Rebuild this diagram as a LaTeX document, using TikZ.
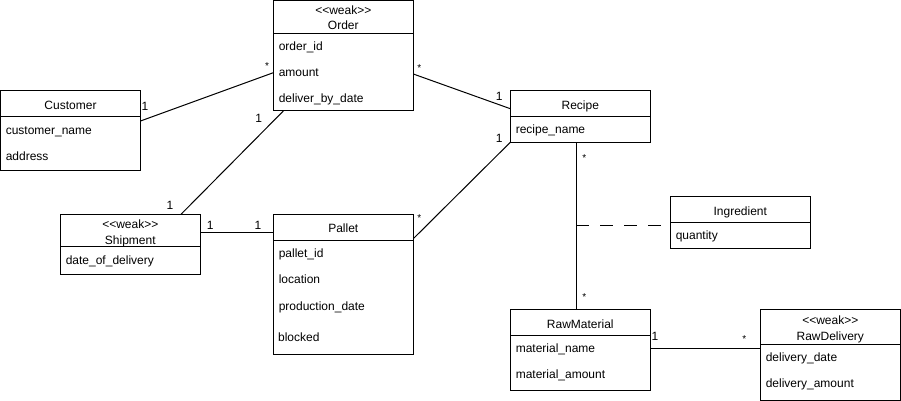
\documentclass[tikz,border=0pt]{standalone}
\usepackage{fontspec}
\newfontfamily\umlfont{Liberation Sans}
\usetikzlibrary{calc}
\begin{document}
\begin{tikzpicture}[x=1pt,y=-1pt,
  box/.style={draw, line width=1pt, rectangle, minimum width=140pt, inner sep=0pt, outer sep=0pt, anchor=north west},
  txt/.style={font=\umlfont\fontsize{12}{14}\selectfont, inner sep=0pt, outer sep=0pt},
  attr/.style={txt, anchor=base west},
  ttl/.style={txt, anchor=base},
  mone/.style={txt, anchor=base},
  mstar/.style={font=\umlfont\fontsize{10}{12}\selectfont, inner sep=0pt, outer sep=0pt, anchor=base},
  conn/.style={line width=1pt},
  divider/.style={line width=1pt},
]
\useasboundingbox (0,0) rectangle (901,401);
\fill[white] (0,0) rectangle (901,401);

% ---- boxes ----
\node[box, minimum height=110pt] (order) at (273.3,1) {};
\node[box, minimum height=80pt] (cust) at (0.5,90.3) {};
\node[box, minimum height=52pt] (recipe) at (510.3,90.3) {};
\node[box, minimum height=60pt] (ship) at (60.3,214.3) {};
\node[box, minimum height=140pt] (pallet) at (273.3,214.3) {};
\node[box, minimum height=52pt] (ingr) at (670.3,196.3) {};
\node[box, minimum height=81pt] (rawm) at (510.3,309.3) {};
\node[box, minimum height=91pt] (rawd) at (760.3,309.3) {};

% ---- dividers ----
\draw[divider] ([yshift=-32.3pt]order.north west) -- ([yshift=-32.3pt]order.north east);
\draw[divider] ([yshift=-26pt]cust.north west) -- ([yshift=-26pt]cust.north east);
\draw[divider] ([yshift=-26pt]recipe.north west) -- ([yshift=-26pt]recipe.north east);
\draw[divider] ([yshift=-32pt]ship.north west) -- ([yshift=-32pt]ship.north east);
\draw[divider] ([yshift=-26pt]pallet.north west) -- ([yshift=-26pt]pallet.north east);
\draw[divider] ([yshift=-26pt]ingr.north west) -- ([yshift=-26pt]ingr.north east);
\draw[divider] ([yshift=-26pt]rawm.north west) -- ([yshift=-26pt]rawm.north east);
\draw[divider] ([yshift=-35pt]rawd.north west) -- ([yshift=-35pt]rawd.north east);

% ---- texts ----
\node[ttl] (order-s) at (343.3,15) {\textless\textless weak\textgreater\textgreater};
\node[ttl] (order-t) at (343.3,30) {Order};
\node[attr] (order-a1) at (278.8,51) {order\_id};
\node[attr] (order-a2) at (278.8,76.7) {amount};
\node[attr] (order-a3) at (278.8,102.7) {deliver\_by\_date};

\node[ttl] (cust-t) at (70.5,109.3) {Customer};
\node[attr] (cust-a1) at (5.8,134) {customer\_name};
\node[attr] (cust-a2) at (5.8,160) {address};

\node[ttl] (recipe-t) at (580.3,109.3) {Recipe};
\node[attr] (recipe-a1) at (515.8,133.3) {recipe\_name};

\node[ttl] (ship-s) at (130.3,228.3) {\textless\textless weak\textgreater\textgreater};
\node[ttl] (ship-t) at (130.3,244) {Shipment};
\node[attr] (ship-a1) at (65.8,264) {date\_of\_delivery};

\node[ttl] (pallet-t) at (343.3,232.7) {Pallet};
\node[attr] (pallet-a1) at (278.8,257.3) {pallet\_id};
\node[attr] (pallet-a2) at (278.8,283.3) {location};
\node[attr] (pallet-a3) at (278.8,310) {production\_date};
\node[attr] (pallet-a4) at (278.1,341.7) {blocked};

\node[ttl] (ingr-t) at (740.3,215) {Ingredient};
\node[attr] (ingr-a1) at (675.8,239.3) {quantity};

\node[ttl] (rawm-t) at (580.3,328.3) {RawMaterial};
\node[attr] (rawm-a1) at (515.8,352.7) {material\_name};
\node[attr] (rawm-a2) at (515.8,378.7) {material\_amount};

\node[ttl] (rawd-s) at (830.3,324) {\textless\textless weak\textgreater\textgreater};
\node[ttl] (rawd-t) at (830.3,340) {RawDelivery};
\node[attr] (rawd-a1) at (765.8,361.7) {delivery\_date};
\node[attr] (rawd-a2) at (765.8,387.7) {delivery\_amount};

% ---- connectors ----
\draw[conn] ([yshift=9.3pt]cust.east) -- ([yshift=-16.7pt]order.west);
\draw[conn] ([yshift=-18pt]order.east) -- ([yshift=7.6pt]recipe.west);
\draw[conn] ([xshift=10pt]order.south west) -- ([xshift=120.7pt]ship.north west);
\draw[conn] ([yshift=12pt]ship.east) -- ([yshift=52pt]pallet.west);
\draw[conn] ([yshift=45.6pt]pallet.east) -- (recipe.south west);
\coordinate (rp) at ([xshift=66pt]recipe.south west);
\coordinate (rm) at ([xshift=66pt]rawm.north west);
\draw[conn] (rp) -- (rm);
\coordinate (mid) at ($(rp)!0.501!(rm)$);
\draw[conn, dash pattern=on 13pt off 11pt] (mid) -- (ingr.west |- mid);
\coordinate (rmr) at ([yshift=1.5pt]rawm.east);
\draw[conn] (rmr) -- (rmr -| rawd.west);

% ---- multiplicities ----
\node[mone] (m1) at (145,110.7) {1};
\node[mstar] (m2) at (267,69.5) {*};
\node[mstar] (m3) at (419.2,72) {*};
\node[mone] (m4) at (499.2,100) {1};
\node[mone] (m5) at (499.2,142.7) {1};
\node[mstar] (m6) at (584.2,161) {*};
\node[mone] (m7) at (258.7,122.7) {1};
\node[mone] (m8) at (170,209.3) {1};
\node[mone] (m9) at (210.3,229.3) {1};
\node[mone] (m10) at (258,229.3) {1};
\node[mstar] (m11) at (419.2,221.5) {*};
\node[mstar] (m12) at (584.3,300.8) {*};
\node[mone] (m13) at (655,340) {1};
\node[mstar] (m14) at (744.3,342.5) {*};
\end{tikzpicture}
\end{document}
